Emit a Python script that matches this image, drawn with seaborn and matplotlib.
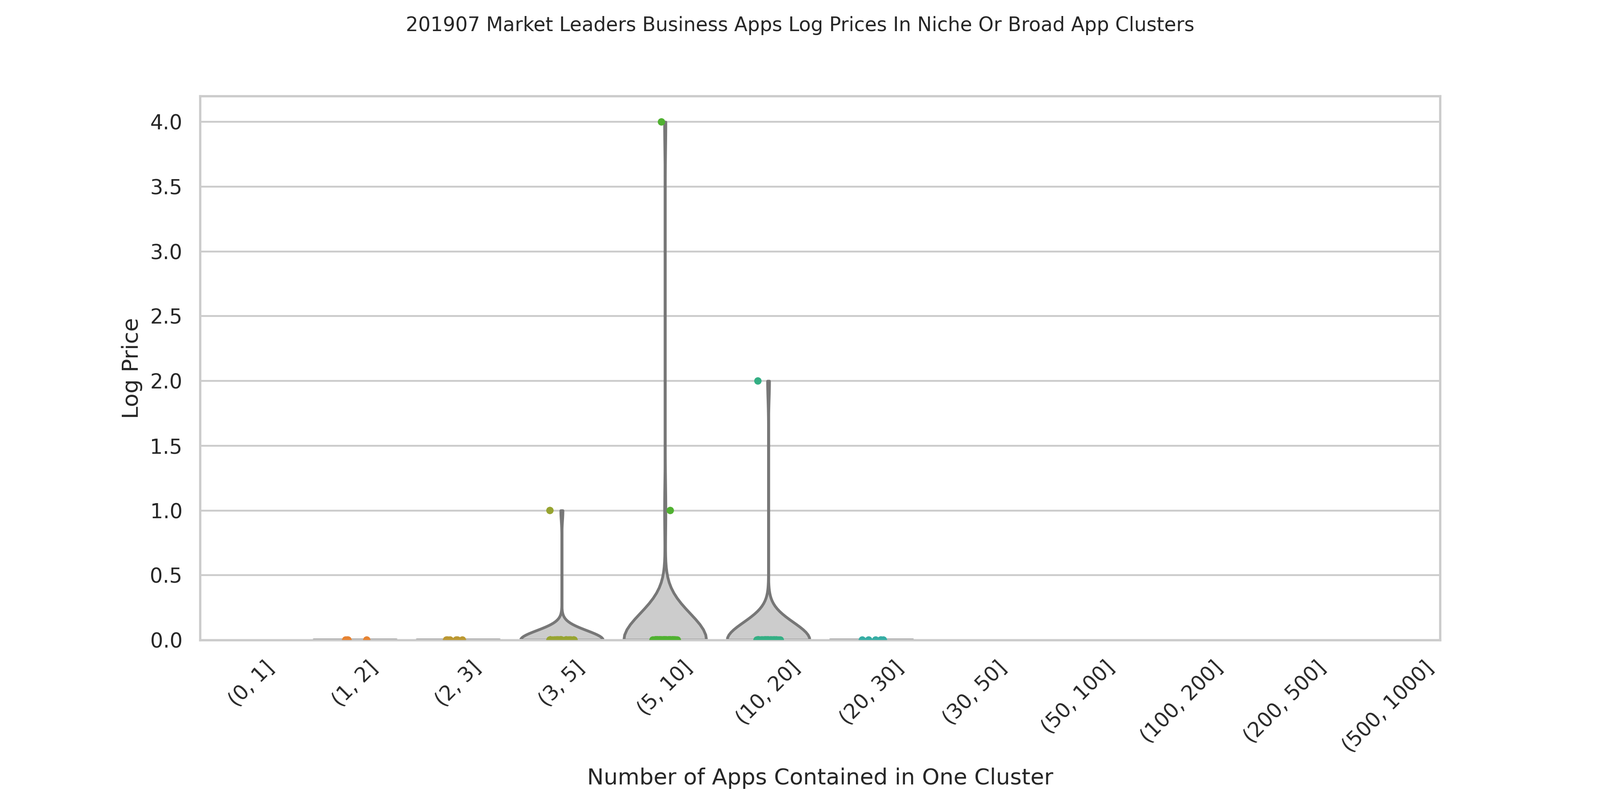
import numpy as np
import pandas as pd
import matplotlib
matplotlib.use("Agg")
import matplotlib.pyplot as plt
import seaborn as sns

categories = ["(0, 1]", "(1, 2]", "(2, 3]", "(3, 5]", "(5, 10]", "(10, 20]",
              "(20, 30]", "(30, 50]", "(50, 100]", "(100, 200]", "(200, 500]", "(500, 1000]"]
vals_1_2 = [0.0, 0.0, 0.0, 0.0]
vals_2_3 = [0.0, 0.0, 0.0, 0.0, 0.0, 0.0]
vals_3_5 = [0.0] * 40 + [1.0]
vals_5_10 = [0.0] * 70 + [1.0, 4.0]
vals_10_20 = [0.0] * 45 + [2.0]
vals_20_30 = [0.0, 0.0, 0.0, 0.0, 0.0, 0.0]

groups = {"(1, 2]": vals_1_2, "(2, 3]": vals_2_3, "(3, 5]": vals_3_5,
          "(5, 10]": vals_5_10, "(10, 20]": vals_10_20, "(20, 30]": vals_20_30}
rows = [(k, v) for k, vs in groups.items() for v in vs]
df = pd.DataFrame(rows, columns=["cluster", "price"])
df["cluster"] = pd.Categorical(df["cluster"], categories=categories)

sns.set_theme(style="whitegrid")
fig, ax = plt.subplots(figsize=(12, 6))
sns.violinplot(data=df, x="cluster", y="price", order=categories, cut=0, inner=None,
               color="#cccccc", linecolor="#777777", linewidth=1.5, density_norm="width",
               width=0.8, ax=ax)
sns.stripplot(data=df, x="cluster", y="price", order=categories, hue="cluster",
              hue_order=categories, palette="husl", jitter=0.12, size=4, legend=False, ax=ax)
ax.set_ylim(0, 4.2)
ax.set_xlim(-0.5, 11.5)
ax.set_xlabel("Number of Apps Contained in One Cluster", labelpad=6)
ax.set_ylabel("Log Price")
plt.setp(ax.get_xticklabels(), rotation=45)
fig.suptitle("201907 Market Leaders Business Apps Log Prices In Niche Or Broad App Clusters",
             fontsize=10.5)
fig.subplots_adjust(left=0.125, right=0.9, top=0.88, bottom=0.2)
fig.savefig("out.png", dpi=300)
